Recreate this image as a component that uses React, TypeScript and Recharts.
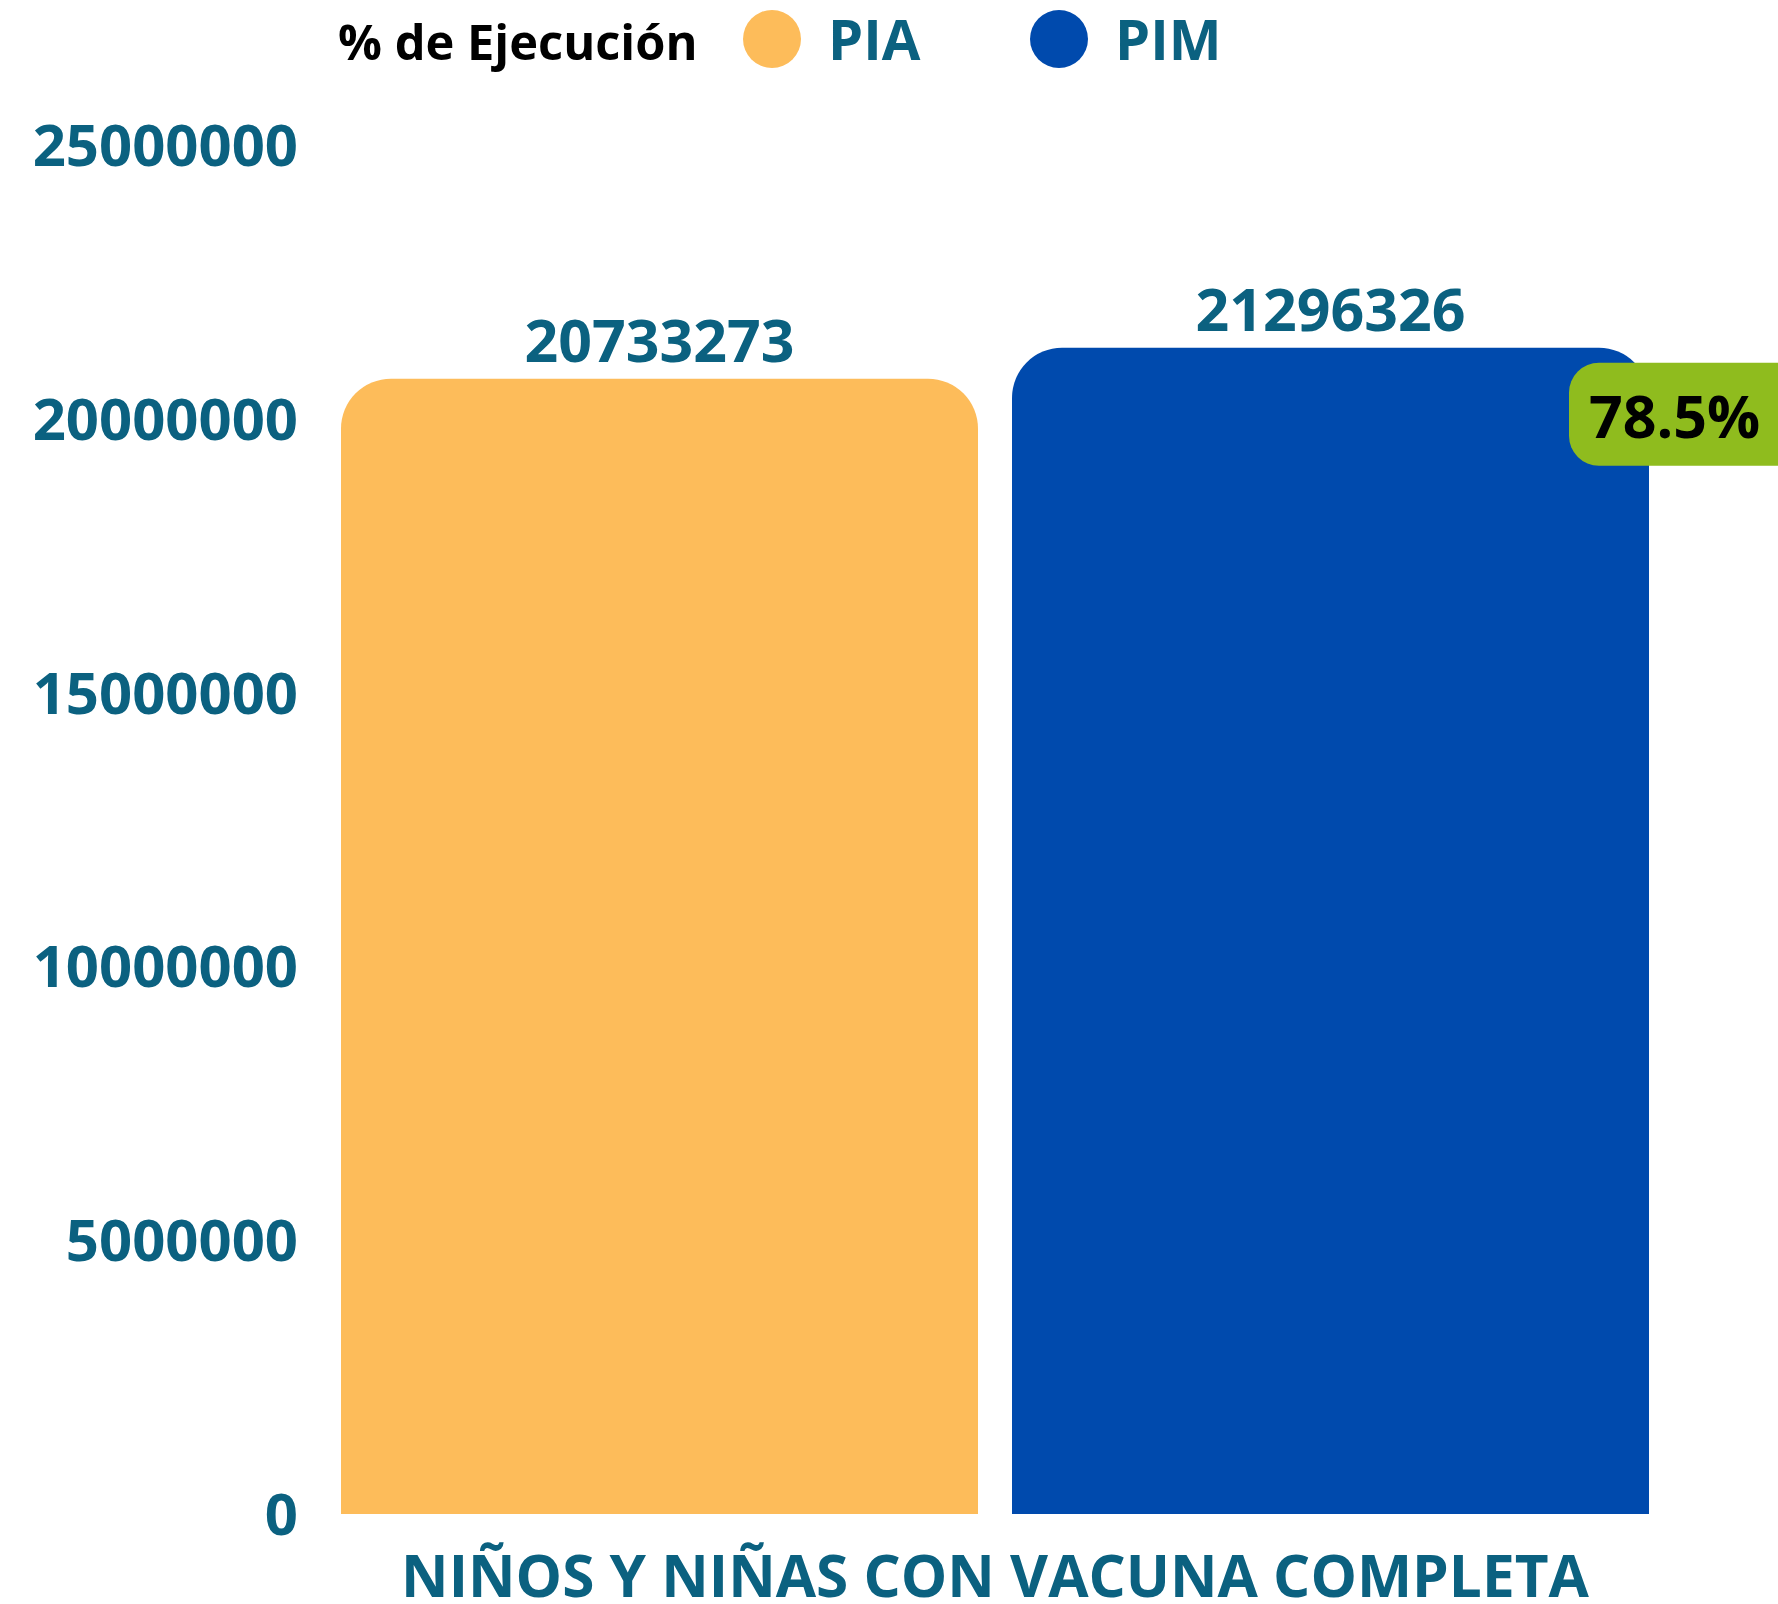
import React from 'react';
import { BarChart, Bar, XAxis, YAxis, Legend, LabelList } from 'recharts';

const categories = ['NIÑOS Y NIÑAS CON VACUNA COMPLETA'];
const piaValues = [20733273];
const pimValues = [21296326];
const ejecucion = [78.5];
const yTicks = [0, 5000000, 10000000, 15000000, 20000000, 25000000];
const seriesNames = ['PIA', 'PIM'];
const legendTitle = '% de Ejecución';

const TEAL = '#0B6180';
const ORANGE = '#FDBC5A';
const BLUE = '#004AAD';
const GREEN = '#8FBC1E';
const FONT = "'Open Sans', 'Noto Sans', sans-serif";

const data = categories.map((c, i) => ({
  name: c,
  PIA: piaValues[i],
  PIM: pimValues[i],
  pct: ejecucion[i],
}));

const seriesColors = [ORANGE, BLUE];

const LegendContent = () => (
  <svg width={1778} height={80} style={{ display: 'block' }}>
    <text x={338} y={60} fontFamily={FONT} fontWeight={700} fontSize={48.8} fill="#000">
      {legendTitle}
    </text>
    {seriesNames.map((n, i) => (
      <g key={n}>
        <circle cx={772 + i * 287} cy={39} r={29} fill={seriesColors[i]} />
        <text x={828 + i * 287} y={60} fontFamily={FONT} fontWeight={700} fontSize={56} fill={TEAL}>
          {n}
        </text>
      </g>
    ))}
  </svg>
);

const YTick = (props: any) => {
  const { x, y, payload } = props;
  return (
    <text x={x} y={y + 21} textAnchor="end" fontFamily={FONT} fontWeight={700} fontSize={58} fill={TEAL}>
      {payload.value}
    </text>
  );
};

const XTick = (props: any) => {
  const { x, y, payload } = props;
  return (
    <text x={x} y={y + 75} textAnchor="middle" fontFamily={FONT} fontWeight={700} fontSize={58.5} fill={TEAL}>
      {payload.value}
    </text>
  );
};

const ValueLabel = (props: any) => {
  const { x, y, width, value } = props;
  return (
    <text x={x + width / 2} y={y - 17} textAnchor="middle" fontFamily={FONT} fontWeight={700} fontSize={59} fill={TEAL}>
      {value}
    </text>
  );
};

const PctLabel = (props: any) => {
  const { x, y, width, value } = props;
  return (
    <g>
      <rect x={x + width - 80} y={y + 15} width={240} height={103} rx={30} ry={30} fill={GREEN} />
      <text x={x + width - 60} y={y + 90} textAnchor="start" fontFamily={FONT} fontWeight={700} fontSize={59} fill="#000">
        {Number(value).toFixed(1) + '%'}
      </text>
    </g>
  );
};

export default function App() {
  return (
    <div style={{ position: 'absolute', left: 0, top: 0, width: 1778, height: 1604 }}>
      <BarChart
        width={1778}
        height={1604}
        data={data}
        margin={{ top: 65, right: 98, bottom: 0, left: 0 }}
        barGap={34}
      >
        <Legend
          verticalAlign="top"
          align="left"
          content={<LegendContent />}
          wrapperStyle={{ top: 0, left: 0, width: 1778, height: 80, lineHeight: 0 }}
        />
        <YAxis
          width={310}
          domain={[0, 25000000]}
          ticks={yTicks}
          interval={0}
          axisLine={false}
          tickLine={false}
          tickSize={0}
          tickMargin={12}
          tick={<YTick />}
        />
        <XAxis
          dataKey="name"
          height={90}
          axisLine={false}
          tickLine={false}
          tickSize={0}
          tickMargin={8}
          tick={<XTick />}
        />
        <Bar dataKey="PIA" fill={ORANGE} barSize={637} radius={[50, 50, 0, 0]} isAnimationActive={false}>
          <LabelList dataKey="PIA" content={<ValueLabel />} />
        </Bar>
        <Bar dataKey="PIM" fill={BLUE} barSize={637} radius={[50, 50, 0, 0]} isAnimationActive={false}>
          <LabelList dataKey="PIM" content={<ValueLabel />} />
          <LabelList dataKey="pct" content={<PctLabel />} />
        </Bar>
      </BarChart>
    </div>
  );
}
